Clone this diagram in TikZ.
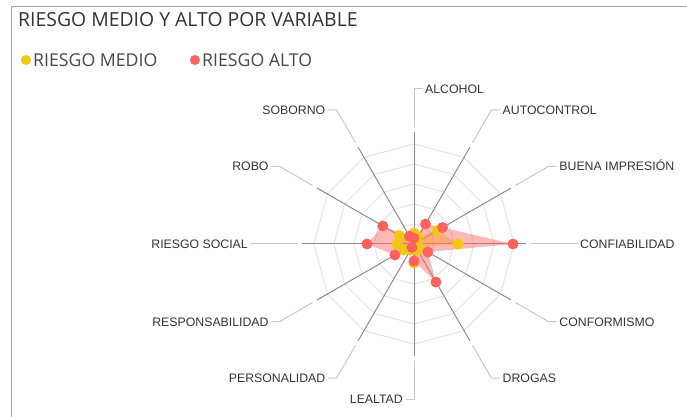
\documentclass[tikz,border=0pt]{standalone}
\usepackage{fontspec}
\setmainfont{Liberation Sans}
\newfontfamily\titlefont{Open Sans}
\usetikzlibrary{calc}
\definecolor{medio}{HTML}{F2C80F}
\definecolor{alto}{HTML}{FD625E}
\definecolor{spokegray}{HTML}{8C8C8C}
\definecolor{ringgray}{HTML}{E4E4E4}
\definecolor{leadgray}{HTML}{C8C8C8}
\definecolor{framegray}{HTML}{A6A6A6}
\definecolor{txt}{HTML}{333333}
\tikzset{
  ring/.style={draw=ringgray, line width=1pt},
  spoke/.style={draw=spokegray, line width=1pt},
  leader/.style={draw=leadgray, line width=1pt},
  varlabel/.style={font=\fontsize{12.3}{14}\selectfont, text=txt, inner xsep=2.5pt, inner ysep=0pt, text height=9pt, text depth=0pt},
  legendlabel/.style={font=\titlefont\fontsize{17.7}{20}\selectfont, text=txt!90, inner sep=0pt, anchor=west},
}
\begin{document}
\begin{tikzpicture}[x=1pt,y=1pt]
\useasboundingbox (-414,-173) rectangle (273,244);
% card frame
\draw[framegray, line width=1pt] (-402,-173) -- (-402,237) -- (273,237);
\node[font=\titlefont\fontsize{19.4}{22}\selectfont, text=txt, inner sep=0pt, anchor=west] (title) at (-396,224) {RIESGO MEDIO Y ALTO POR VARIABLE};
% legend
\fill[medio] (-388,184) circle (5);
\node[legendlabel] (medio) at (-381,184) {RIESGO MEDIO};
\fill[alto] (-219,184) circle (5);
\node[legendlabel] (alto) at (-212,184) {RIESGO ALTO};
% web
\foreach \r in {20,40,60,80,100}
  \draw[ring] (0:\r) \foreach \a in {30,60,...,330} {-- (\a:\r)} -- cycle;
\foreach \a in {0,30,...,330}
  \draw[spoke] (0,0) -- (\a:112);
% axis labels
\node[varlabel, anchor=west] (alcohol) at ($(90:155)+(8.5,0)$) {ALCOHOL};
\node[varlabel, anchor=west] (autocontrol) at ($(60:155)+(8.5,0)$) {AUTOCONTROL};
\node[varlabel, anchor=west] (buena) at ($(30:155)+(8.5,0)$) {BUENA IMPRESIÓN};
\node[varlabel, anchor=west] (confiabilidad) at ($(0:155)+(8.5,0)$) {CONFIABILIDAD};
\node[varlabel, anchor=west] (conformismo) at ($(-30:155)+(8.5,0)$) {CONFORMISMO};
\node[varlabel, anchor=west] (drogas) at ($(-60:155)+(8.5,0)$) {DROGAS};
\node[varlabel, anchor=east] (lealtad) at ($(-90:155)+(-8.5,0)$) {LEALTAD};
\node[varlabel, anchor=east] (personalidad) at ($(-120:155)+(-8.5,0)$) {PERSONALIDAD};
\node[varlabel, anchor=east] (responsabilidad) at ($(-150:155)+(-8.5,0)$) {RESPONSABILIDAD};
\node[varlabel, anchor=east] (social) at ($(180:155)+(-8.5,0)$) {RIESGO SOCIAL};
\node[varlabel, anchor=east] (robo) at ($(150:155)+(-8.5,0)$) {ROBO};
\node[varlabel, anchor=east] (soborno) at ($(120:155)+(-8.5,0)$) {SOBORNO};
\draw[leader] (90:117) -- (90:155) -- (alcohol.west);
\draw[leader] (60:117) -- (60:155) -- (autocontrol.west);
\draw[leader] (30:117) -- (30:155) -- (buena.west);
\draw[leader] (0:117) -- (confiabilidad.west);
\draw[leader] (-30:117) -- (-30:155) -- (conformismo.west);
\draw[leader] (-60:117) -- (-60:155) -- (drogas.west);
\draw[leader] (-90:117) -- (-90:155) -- (lealtad.east);
\draw[leader] (-120:117) -- (-120:155) -- (personalidad.east);
\draw[leader] (-150:117) -- (-150:155) -- (responsabilidad.east);
\draw[leader] (180:117) -- (social.east);
\draw[leader] (150:117) -- (150:155) -- (robo.east);
\draw[leader] (120:117) -- (120:155) -- (soborno.east);
% series areas
\fill[medio, opacity=0.45] (90:11) \foreach \a/\v in {60/8,30/27,0/44,-30/6,-60/7,-90/19,-120/7,-150/12,180/17,150/17,120/8} {-- (\a:\v)} -- cycle;
\fill[alto, opacity=0.45] (90:6) \foreach \a/\v in {60/23,30/33,0/99,-30/16,-60/44,-90/17,-120/4,-150/22,180/47,150/36,120/9} {-- (\a:\v)} -- cycle;
% series points
\foreach \a/\v in {90/11,60/8,30/27,0/44,-30/6,-60/7,-90/19,-120/7,-150/12,180/17,150/17,120/8}
  \fill[medio] (\a:\v) circle (5.5);
\foreach \a/\v in {90/6,60/23,30/33,0/99,-30/16,-60/44,-90/17,-120/4,-150/22,180/47,150/36,120/9}
  \fill[alto] (\a:\v) circle (5.5);
\end{tikzpicture}
\end{document}
